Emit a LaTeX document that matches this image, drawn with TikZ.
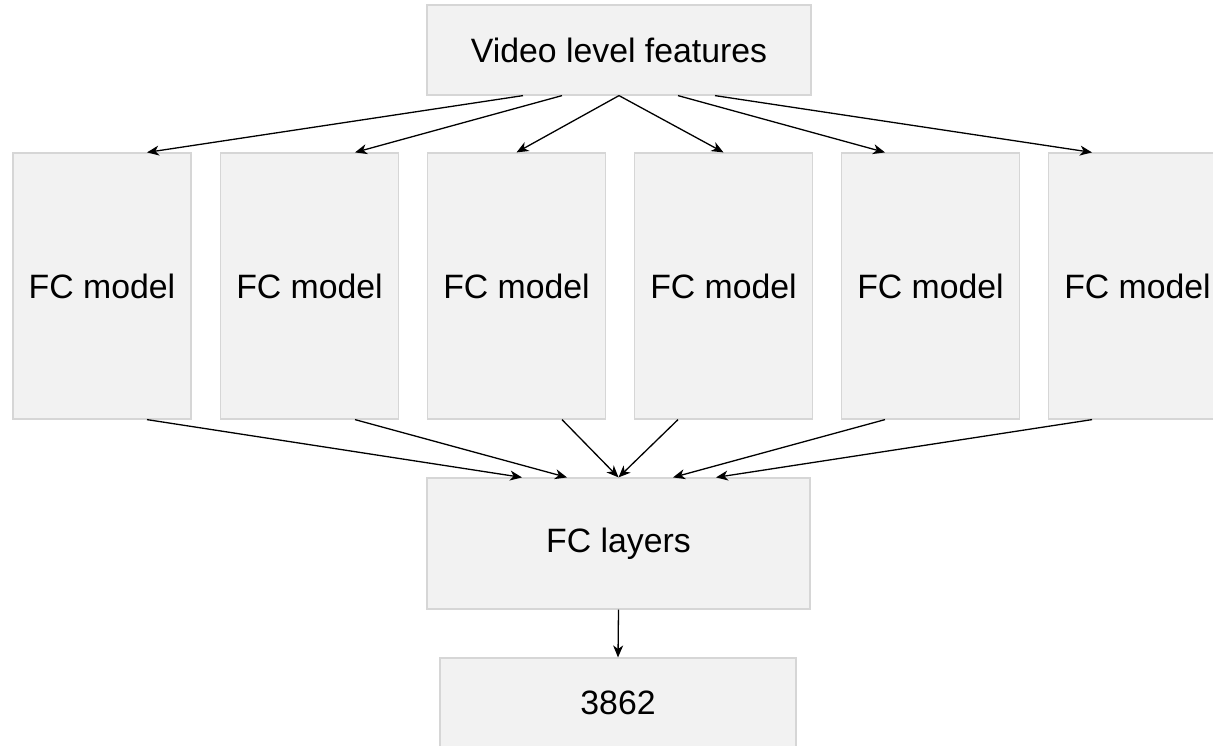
\documentclass[tikz,border=0pt]{standalone}
\usepackage{fontspec}
\setmainfont{Liberation Sans}
\usetikzlibrary{arrows.meta}
\definecolor{boxfill}{HTML}{F2F2F2}
\definecolor{boxrand}{HTML}{D6D6D6}
\newcommand{\labelfont}{\fontsize{16.9}{20}\selectfont}
\begin{document}
\begin{tikzpicture}[
	x=0.5pt, y=-0.5pt,% eine Einheit = ein Pixel der Vorlage
	auto,
	box/.style={draw=boxrand, fill=boxfill, line width=0.6pt, inner sep=0pt,
		font=\labelfont},
	modell/.style={box, minimum width=89pt, minimum height=133pt},
	pfeil/.style={-{Stealth[length=6pt,width=5pt,inset=1.8pt]}, line width=0.65pt}
]
\useasboundingbox (0,0) rectangle (1213,745);
%
\node(vlf)%
    [box, minimum width=192pt, minimum height=45pt]%
    at (619,50)%
    {Video level features};%
%
\node(fcm_a)%
    [modell]%
    at (102,286)%
    {FC model};%
\node(fcm_b)%
    [modell]%
    at (309.5,286)%
    {FC model};%
\node(fcm_c)%
    [modell]%
    at (516.5,286)%
    {FC model};%
\node(fcm_d)%
    [modell]%
    at (723.5,286)%
    {FC model};%
\node(fcm_e)%
    [modell]%
    at (930.5,286)%
    {FC model};%
\node(fcm_f)%
    [modell]%
    at (1137.5,286)%
    {FC model};%
%
\node(fcl)%
    [box, minimum width=191.5pt, minimum height=65.5pt]%
    at (618.5,543.5)%
    {FC layers};%
\node(out)%
    [box, minimum width=178pt, minimum height=45pt]%
    at (618,703)%
    {3862};%
%
% Merkmale -> Modelle
\draw[pfeil] ([xshift=-48pt]vlf.south) -- ([xshift=22.5pt]fcm_a.north);
\draw[pfeil] ([xshift=-28.5pt]vlf.south) -- ([xshift=22.75pt]fcm_b.north);
\draw[pfeil] (vlf.south) -- (fcm_c.north);
\draw[pfeil] (vlf.south) -- (fcm_d.north);
\draw[pfeil] ([xshift=29.5pt]vlf.south) -- ([xshift=-22.75pt]fcm_e.north);
\draw[pfeil] ([xshift=48pt]vlf.south) -- ([xshift=-22.75pt]fcm_f.north);
%
% Modelle -> FC layers
\draw[pfeil] ([xshift=22.5pt]fcm_a.south) -- ([xshift=-48.25pt]fcl.north);
\draw[pfeil] ([xshift=22.75pt]fcm_b.south) -- ([xshift=-25.75pt]fcl.north);
\draw[pfeil] ([xshift=22.75pt]fcm_c.south) -- (fcl.north);
\draw[pfeil] ([xshift=-22.75pt]fcm_d.south) -- (fcl.north);
\draw[pfeil] ([xshift=-22.75pt]fcm_e.south) -- ([xshift=27.25pt]fcl.north);
\draw[pfeil] ([xshift=-22.75pt]fcm_f.south) -- ([xshift=48.75pt]fcl.north);
%
\draw[pfeil] (fcl.south) -- (out.north);
%
\end{tikzpicture}
\end{document}
